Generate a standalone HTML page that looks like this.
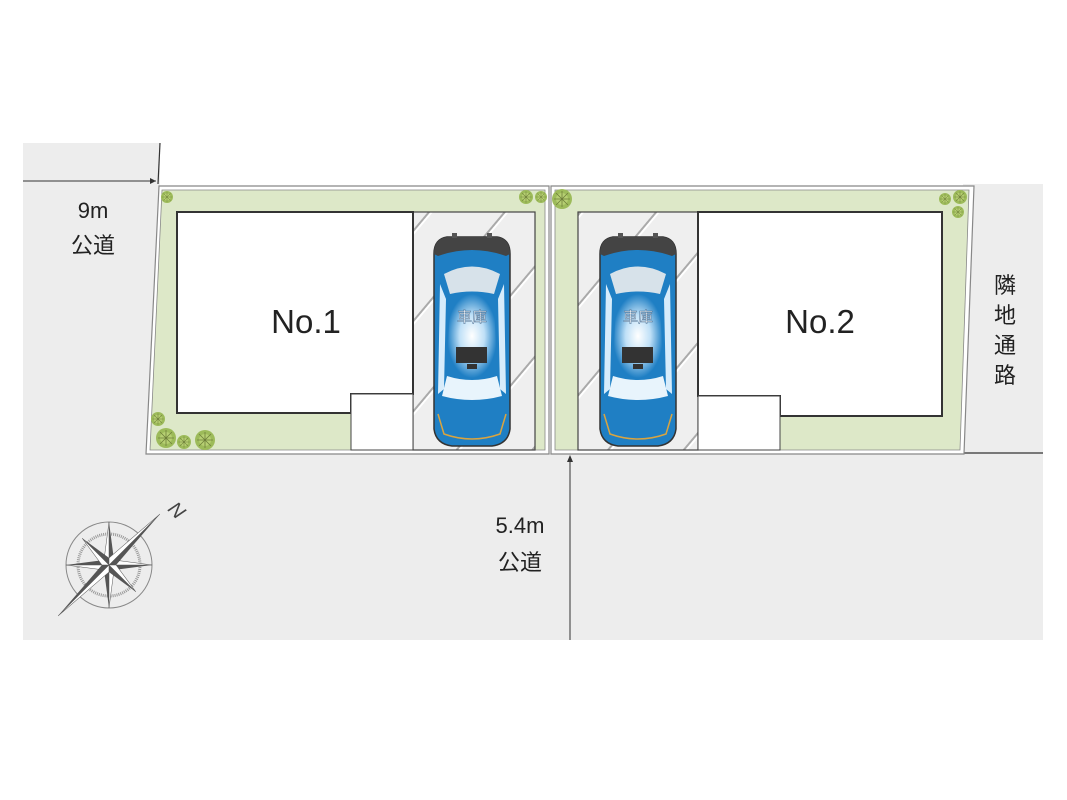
<!DOCTYPE html>
<html><head><meta charset="utf-8"><style>
body{margin:0;background:#fff;}
svg{display:block;}
text{font-family:"Liberation Sans","Noto Sans CJK JP",sans-serif;}
</style></head><body>
<svg width="1067" height="800" viewBox="0 0 1067 800" xmlns="http://www.w3.org/2000/svg">
<defs>
<pattern id="hatch" patternUnits="userSpaceOnUse" width="58" height="58" patternTransform="rotate(40)">
<rect width="58" height="58" fill="#efefef"/><rect x="0" y="0" width="2" height="58" fill="#aaa"/><rect x="2" y="0" width="2" height="58" fill="#fff"/>
</pattern>
<radialGradient id="glow" cx="0.5" cy="0.5" r="0.5">
<stop offset="0" stop-color="#ffffff"/><stop offset="0.5" stop-color="#bfe0f7"/><stop offset="1" stop-color="#1f7fc4"/>
</radialGradient>
<g id="car">
<path d="M-38,-90 Q-38,-105 -25,-107 L25,-107 Q38,-105 38,-90 L38,85 Q36,100 20,102 L-20,102 Q-36,100 -38,85 Z" fill="#1f7fc4" stroke="#333" stroke-width="1.5"/>
<path d="M-38,-90 Q-38,-105 -25,-107 L25,-107 Q38,-105 38,-90 L34,-88 Q0,-100 -34,-88Z" fill="#444"/>
<rect x="-20" y="-111" width="5" height="5" fill="#555"/><rect x="15" y="-111" width="5" height="5" fill="#555"/>
<path d="M-28,-70 Q0,-85 28,-70 L22,-50 Q0,-55 -22,-50Z" fill="#d7e2ea"/>
<path d="M-22,-48 Q0,-52 22,-48 L25,30 Q0,38 -25,30Z" fill="url(#glow)"/>
<path d="M-32,-60 L-26,-45 L-28,45 L-34,50Z M32,-60 L26,-45 L28,45 L34,50Z" fill="#d7ecfb"/>
<path d="M-25,32 Q0,40 25,32 L30,52 Q0,60 -30,52Z" fill="#e8f4fc"/>
<rect x="-16" y="3" width="31" height="16" fill="#333"/>
<rect x="-5" y="20" width="10" height="5" fill="#333"/>
<path d="M-34,70 L-28,90 Q0,100 28,90 L34,70" fill="none" stroke="#d9a440" stroke-width="1.5"/>
<text x="0" y="-22" font-size="15" fill="#fff" text-anchor="middle" stroke="#4a6f95" stroke-width="0.5">車庫</text>
</g>
<g id="tree"><circle r="10" fill="#9dbb5a"/><circle r="6" fill="#b6cf72"/><path d="M-8,0 L8,0 M0,-8 L0,8 M-6,-6 L6,6 M-6,6 L6,-6" stroke="#6e7f3a" stroke-width="0.8"/></g>
</defs>
<rect x="23" y="143" width="137" height="497" fill="#ededed"/>
<rect x="23" y="453" width="1020" height="187" fill="#ededed"/>
<rect x="963" y="184" width="80" height="270" fill="#ededed"/>
<line x1="160" y1="143" x2="158" y2="184" stroke="#333" stroke-width="1.2"/>
<line x1="23" y1="181" x2="156" y2="181" stroke="#333" stroke-width="1"/>
<path d="M156,181 l-6,-3 v6z" fill="#333"/>
<line x1="963" y1="453" x2="1043" y2="453" stroke="#333" stroke-width="1.2"/>
<polygon points="159,186 549,186 549,454 146,454" fill="#fff" stroke="#888" stroke-width="1.2"/>
<polygon points="162,190 545,190 545,450 150,450" fill="#dde8c8" stroke="#888" stroke-width="0.8"/>
<polygon points="551,186 974,186 964,454 551,454" fill="#fff" stroke="#888" stroke-width="1.2"/>
<polygon points="555,190 969,190 960,450 555,450" fill="#dde8c8" stroke="#888" stroke-width="0.8"/>
<rect x="413" y="212" width="122" height="238" fill="url(#hatch)" stroke="#444" stroke-width="1.2"/>
<rect x="578" y="212" width="120" height="238" fill="url(#hatch)" stroke="#444" stroke-width="1.2"/>
<polygon points="177,212 413,212 413,394 351,394 351,413 177,413" fill="#fff" stroke="#333" stroke-width="2"/>
<rect x="351" y="394" width="62" height="56" fill="#fff" stroke="#444" stroke-width="1"/>
<polygon points="698,212 942,212 942,416 780,416 780,396 698,396" fill="#fff" stroke="#333" stroke-width="2"/>
<rect x="698" y="396" width="82" height="54" fill="#fff" stroke="#444" stroke-width="1"/>
<text x="306" y="333" font-size="33" text-anchor="middle" fill="#222">No.1</text>
<text x="820" y="333" font-size="33" text-anchor="middle" fill="#222">No.2</text>
<use href="#car" transform="translate(472,344)"/>
<use href="#car" transform="translate(638,344)"/>
<use href="#tree" transform="translate(167,197) scale(0.6)"/>
<use href="#tree" transform="translate(526,197) scale(0.7)"/>
<use href="#tree" transform="translate(541,197) scale(0.6)"/>
<use href="#tree" transform="translate(562,199) scale(1)"/>
<use href="#tree" transform="translate(945,199) scale(0.6)"/>
<use href="#tree" transform="translate(960,197) scale(0.7)"/>
<use href="#tree" transform="translate(958,212) scale(0.6)"/>
<use href="#tree" transform="translate(158,419) scale(0.7)"/>
<use href="#tree" transform="translate(166,438) scale(1)"/>
<use href="#tree" transform="translate(184,442) scale(0.7)"/>
<use href="#tree" transform="translate(205,440) scale(1)"/>
<line x1="570" y1="640" x2="570" y2="458" stroke="#333" stroke-width="1"/>
<path d="M570,455 l-3,7 h6z" fill="#333"/>
<text x="93" y="218" font-size="22" text-anchor="middle" fill="#222">9m</text>
<text x="93" y="253" font-size="22" text-anchor="middle" fill="#222">公道</text>
<text x="520" y="533" font-size="22" text-anchor="middle" fill="#222">5.4m</text>
<text x="520" y="570" font-size="22" text-anchor="middle" fill="#222">公道</text>
<g font-size="22" fill="#222" text-anchor="middle">
<text x="1005" y="293">隣</text><text x="1005" y="323">地</text><text x="1005" y="353">通</text><text x="1005" y="383">路</text>
</g>
<g transform="translate(109,565)">
<circle r="43" fill="none" stroke="#888" stroke-width="1"/>
<circle r="31" fill="none" stroke="#999" stroke-width="3" stroke-dasharray="1 1"/>
<g fill="#555">
<polygon points="0,-43 5,-5 0,0"/><polygon points="0,-43 -5,-5 0,0" fill="#fff" stroke="#555" stroke-width="0.5"/>
<polygon points="0,43 -5,5 0,0"/><polygon points="0,43 5,5 0,0" fill="#fff" stroke="#555" stroke-width="0.5"/>
<polygon points="-43,0 -5,-5 0,0"/><polygon points="-43,0 -5,5 0,0" fill="#fff" stroke="#555" stroke-width="0.5"/>
<polygon points="43,0 5,5 0,0"/><polygon points="43,0 5,-5 0,0" fill="#fff" stroke="#555" stroke-width="0.5"/>
<g transform="rotate(45)">
<polygon points="0,-72 5,-5 0,0"/><polygon points="0,-72 -5,-5 0,0" fill="#fff" stroke="#555" stroke-width="0.5"/>
<polygon points="0,72 -5,5 0,0"/><polygon points="0,72 5,5 0,0" fill="#fff" stroke="#555" stroke-width="0.5"/>
<polygon points="-38,0 -5,-5 0,0"/><polygon points="-38,0 -5,5 0,0" fill="#fff" stroke="#555" stroke-width="0.5"/>
<polygon points="38,0 5,5 0,0"/><polygon points="38,0 5,-5 0,0" fill="#fff" stroke="#555" stroke-width="0.5"/>
</g>
</g>
<text x="68" y="-48" font-size="20" font-family="Liberation Serif,serif" font-style="italic" fill="#444" transform="rotate(45 68 -55)" text-anchor="middle">N</text>
</g>
</svg>
</body></html>
